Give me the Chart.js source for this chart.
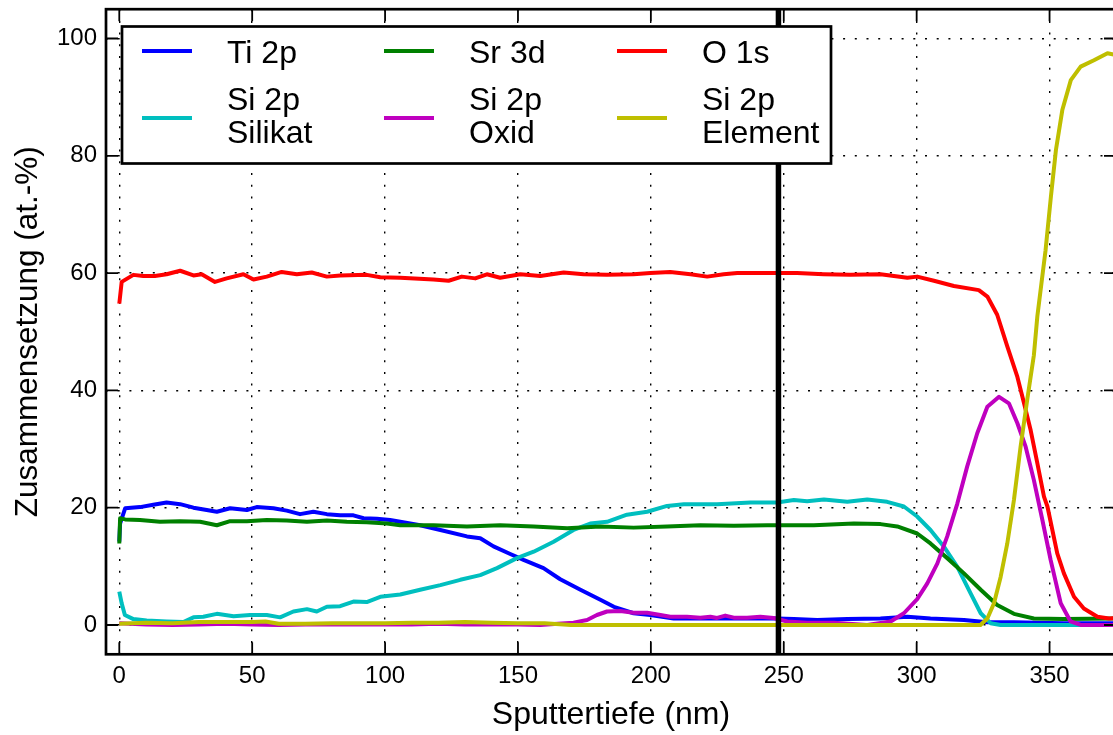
<!DOCTYPE html>
<html>
<head>
<meta charset="utf-8">
<script src="https://cdn.jsdelivr.net/npm/chart.js@4.4.1/dist/chart.umd.min.js"></script>
<style>
  html, body { margin: 0; padding: 0; background: #fff; overflow: hidden; }
  #wrap { width: 1113px; height: 735px; overflow: hidden; position: relative; }
  canvas { display: block; }
</style>
</head>
<body>
<div id="wrap"><canvas id="c" width="1118" height="735"></canvas></div>
<script>
// Axis ranges and ticks
const depthRange = [-5, 375];
const compRange = [-5, 105];
const depthTicks = [0, 50, 100, 150, 200, 250, 300, 350];
const compTicks = [0, 20, 40, 60, 80, 100];

// Interface marker (nm)
const interfaceDepth = 248;

// Ti 2p
const tiDepth = [0, 0.3, 2.2, 7.8, 12.8, 17.8, 22.9, 27.9, 32.9, 36.7, 41.7, 48, 51.7, 58, 63, 68, 73, 78.1, 83.1, 88.1,
  91.9, 96.9, 101.9, 105.7, 113.2, 120.8, 130.8, 135.8, 140.8, 147.1, 152.1, 159.6, 165.9, 173.5, 181, 186.1, 193.5, 199.8,
  208.6, 218.6, 231.2, 247.5, 253.8, 262.6, 273.9, 286.4, 296.5, 305.2, 317.8, 326.6, 336.6, 355.4, 375];
const tiValue = [14.2, 17.3, 19.9, 20.1, 20.5, 20.9, 20.6, 20.0, 19.6, 19.3, 19.9, 19.6, 20.1, 19.9, 19.5, 18.9, 19.3, 18.9, 18.7, 18.7,
  18.2, 18.1, 17.9, 17.6, 17.0, 16.2, 15.1, 14.8, 13.4, 12.1, 11.1, 9.7, 7.8, 6.0, 4.3, 3.1, 2.0, 1.7,
  1.1, 1.1, 1.1, 1.1, 1.0, 0.85, 1.0, 1.1, 1.4, 1.1, 0.85, 0.45, 0.45, 0.3, 0.3];

// Si 2p (Silikat)
const silikatDepth = [0, 0.9, 2.1, 5.3, 10.3, 17.8, 24.1, 27.9, 31.6, 36.7, 43, 49.2, 55.5, 60.5, 65.5, 70.6, 74.3, 78.1, 83.1, 88.1,
  93.1, 98.2, 105.7, 113.2, 120.8, 128.3, 135.8, 142.1, 149.6, 155.9, 163.4, 170.9, 177.2, 183.5, 191, 198.6, 206.1, 212.4, 224.9, 237.5,
  247.5, 253.8, 258.8, 265.1, 273.9, 281.4, 288.9, 295.2, 300.2, 305.2, 310.2, 315.3, 320.3, 324.1, 327.8, 331.6, 375];
const silikatValue = [5.7, 3.7, 1.7, 1.0, 0.75, 0.6, 0.5, 1.3, 1.4, 1.9, 1.5, 1.7, 1.7, 1.3, 2.3, 2.7, 2.3, 3.1, 3.2, 4.0,
  3.9, 4.8, 5.2, 6.0, 6.8, 7.7, 8.5, 9.7, 11.4, 12.5, 14.2, 16.2, 17.3, 17.6, 18.8, 19.3, 20.3, 20.6, 20.6, 20.9,
  20.9, 21.3, 21.1, 21.4, 21.0, 21.4, 21.0, 20.2, 18.5, 16.2, 13.4, 9.9, 5.4, 2.0, 0.3, 0.0, 0.0];

// Sr 3d
const srDepth = [0, 0.3, 2.2, 7.8, 15.3, 22.9, 30.4, 36.7, 41.7, 48, 55.5, 63, 70.6, 78.1, 85.6, 93.1, 100.7, 105.7, 118.2, 130.8,
  143.3, 155.9, 168.5, 181, 193.5, 206.1, 218.6, 231.2, 243.8, 261.3, 276.4, 286.4, 292.7, 300.2, 305.2, 311.5, 317.8, 324.1,
  330.3, 336.6, 344.1, 355.4, 375];
const srValue = [13.9, 18.2, 18.0, 17.9, 17.6, 17.7, 17.6, 17.0, 17.7, 17.7, 17.9, 17.8, 17.6, 17.8, 17.6, 17.5, 17.3, 17.0, 17.0, 16.8,
  17.0, 16.8, 16.5, 16.8, 16.6, 16.8, 17.0, 16.9, 17.0, 17.0, 17.3, 17.2, 16.8, 15.6, 13.9, 11.4, 8.8, 6.0,
  3.4, 1.9, 1.1, 1.0, 1.1];

// Si 2p (Oxid)
const oxidDepth = [0, 10, 20, 30, 40, 50, 60, 70, 80, 90, 100, 110, 120, 130, 140, 150,
  158.4, 165, 170.9, 176, 179.7, 183.5, 188.5, 193.5, 198.6, 203.6, 207.3, 213.6, 218.6, 222.4, 224.9, 228, 231.2, 236.2, 241.2, 246.2,
  251.3, 258.8, 268.8, 281.4, 290.2, 295.2, 300.2, 304, 307.8, 311.5, 315.3, 319, 322.8, 326.6, 331, 334.7, 337.9, 341, 344.1, 347.3,
  350.4, 354.2, 357.9, 361.7, 375];
const oxidValue = [0.3, 0.1, 0.0, 0.1, 0.2, 0.1, 0.0, 0.1, 0.1, 0.1, 0.1, 0.1, 0.2, 0.1, 0.1, 0.1,
  0.0, 0.2, 0.4, 0.85, 1.7, 2.3, 2.4, 2.1, 2.1, 1.7, 1.4, 1.4, 1.25, 1.4, 1.2, 1.6, 1.25, 1.25, 1.4, 1.2,
  0.6, 0.4, 0.4, 0.0, 0.6, 2.0, 4.4, 7.1, 10.5, 15.1, 20.7, 27.0, 32.7, 37.2, 38.9, 37.8, 34.4, 30.4, 24.7, 17.9,
  11.1, 3.7, 0.6, 0.0, 0.0];

// O 1s
const oDepth = [0, 0.9, 5.3, 9, 13.4, 17.8, 22.9, 27.9, 31, 36, 40.4, 46.7, 50.5, 55.5, 61.1, 66.8, 72.4, 78.1, 83.1, 93.1,
  98.2, 105.7, 118.2, 123.9, 128.9, 133.9, 138.3, 143.3, 150.9, 158.4, 167.2, 174.7, 183.5, 193.5, 199.8, 207.3, 214.9, 221.2, 227.4, 232.5,
  243.8, 255, 265, 275, 286.4, 296.5, 300.2, 306.5, 314, 323.4, 326.6, 330.3, 334.1, 337.9, 340.4, 342.9, 345.4, 347.9, 349.2, 352.9,
  355.4, 359.2, 362.9, 368, 372.4, 375];
const oValue = [54.8, 58.5, 59.7, 59.5, 59.5, 59.8, 60.4, 59.6, 59.8, 58.5, 59.1, 59.8, 58.9, 59.4, 60.2, 59.8, 60.1, 59.4, 59.6, 59.7,
  59.3, 59.2, 58.9, 58.7, 59.4, 59.1, 59.8, 59.2, 59.8, 59.5, 60.1, 59.8, 59.7, 59.8, 60.0, 60.2, 59.8, 59.4, 59.8, 60.0,
  60.0, 60.0, 59.8, 59.7, 59.8, 59.2, 59.4, 58.7, 57.8, 57.1, 56.0, 52.9, 47.5, 42.3, 37.8, 33.2, 27.6, 21.9, 20.2, 12.2,
  8.8, 4.8, 2.8, 1.4, 1.1, 1.2];

// Si 2p (Element)
const elementDepth = [0, 10, 20, 30, 40, 50, 55, 60, 70, 80, 90, 100, 110, 120, 130, 140, 150, 160, 170, 180,
  200, 250, 300, 324, 326.6, 329.1, 331.6, 334.1, 336.6, 339.1, 341.6, 344.1, 345.4, 348.5, 350.5, 352.4, 354.8, 358, 361.7, 366.7,
  371.8, 375];
const elementValue = [0.2, 0.4, 0.3, 0.5, 0.5, 0.5, 0.6, 0.2, 0.2, 0.3, 0.3, 0.3, 0.4, 0.4, 0.5, 0.4, 0.3, 0.3, 0.0, 0.0,
  0.0, 0.0, 0.0, 0.0, 1.1, 3.7, 8.2, 13.9, 21.3, 30.4, 38.4, 46.0, 52.6, 63.9, 73.0, 81.0, 87.8, 92.9, 95.2, 96.3,
  97.5, 97.2];

const FONT = "'Liberation Sans', Arial, Helvetica, sans-serif";
const pts = (xs, ys) => xs.map((x, i) => ({ x: x, y: ys[i] }));

function series(label, xs, ys, color, order) {
  return {
    label: label, data: pts(xs, ys), borderColor: color, backgroundColor: color,
    borderWidth: 4, pointRadius: 0, tension: 0, fill: false, order: order,
    borderJoinStyle: 'round', borderCapStyle: 'butt'
  };
}

const datasets = [
  series(['Ti 2p'], tiDepth, tiValue, '#0000ff', 6),
  series(['Si 2p', 'Silikat'], silikatDepth, silikatValue, '#00bfbf', 5),
  series(['Sr 3d'], srDepth, srValue, '#008000', 4),
  series(['Si 2p', 'Oxid'], oxidDepth, oxidValue, '#bf00bf', 3),
  series(['O 1s'], oDepth, oValue, '#ff0000', 2),
  series(['Si 2p', 'Element'], elementDepth, elementValue, '#bfbf00', 1),
  {
    label: 'interface', legendHidden: true,
    data: [{ x: interfaceDepth, y: compRange[0] }, { x: interfaceDepth, y: compRange[1] }],
    borderColor: '#000', borderWidth: 5.5, pointRadius: 0, order: 0, borderCapStyle: 'butt'
  }
];

// Axes frame with inward tick marks on all four sides
const framePlugin = {
  id: 'frame',
  afterDatasetsDraw(chart) {
    const { ctx, chartArea: a, scales: { x, y } } = chart;
    const tl = 12;
    ctx.save();
    ctx.strokeStyle = '#000';
    ctx.lineWidth = 1.8;
    ctx.beginPath();
    depthTicks.forEach(v => {
      const px = x.getPixelForValue(v);
      ctx.moveTo(px, a.bottom); ctx.lineTo(px, a.bottom - tl);
      ctx.moveTo(px, a.top); ctx.lineTo(px, a.top + tl);
    });
    compTicks.forEach(v => {
      const py = y.getPixelForValue(v);
      ctx.moveTo(a.left, py); ctx.lineTo(a.left + tl, py);
      ctx.moveTo(a.right, py); ctx.lineTo(a.right - tl, py);
    });
    ctx.stroke();
    ctx.lineWidth = 2.7;
    ctx.strokeRect(a.left, a.top, a.right - a.left, a.bottom - a.top);
    ctx.restore();
  }
};

// Boxed legend, three columns filled column by column
const legendPlugin = {
  id: 'boxLegend',
  afterDraw(chart) {
    const { ctx, chartArea: a } = chart;
    const left = a.left + 16, top = a.top + 17.3, w = 709, h = 137;
    ctx.save();
    ctx.fillStyle = '#fff';
    ctx.fillRect(left, top, w, h);
    ctx.strokeStyle = '#000';
    ctx.lineWidth = 2.7;
    ctx.strokeRect(left, top, w, h);
    const colX = [20, 262, 495];
    const rowLineY = [24.5, 91.5];
    const rowBase = [[36], [83, 116.5]];
    ctx.font = '32px ' + FONT;
    ctx.textAlign = 'left';
    ctx.textBaseline = 'alphabetic';
    const entries = chart.data.datasets.filter(d => !d.legendHidden);
    entries.forEach((d, i) => {
      const col = Math.floor(i / 2), row = i % 2;
      const lx = left + colX[col];
      const ly = top + rowLineY[row];
      ctx.strokeStyle = d.borderColor;
      ctx.lineWidth = 3.8;
      ctx.beginPath();
      ctx.moveTo(lx, ly); ctx.lineTo(lx + 50, ly);
      ctx.stroke();
      ctx.fillStyle = '#000';
      const lines = d.label;
      const bases = lines.length === 1 ? [rowBase[0][0] + (row === 0 ? 0 : 67)] : rowBase[1];
      lines.forEach((t, k) => ctx.fillText(t, lx + 85, top + bases[k]));
    });
    ctx.restore();
  }
};

Chart.defaults.color = '#000';
Chart.defaults.font.family = FONT;

new Chart(document.getElementById('c'), {
  type: 'line',
  data: { datasets: datasets },
  options: {
    responsive: false,
    animation: false,
    devicePixelRatio: 1,
    layout: { padding: { top: 9.2, right: 2, bottom: 0, left: 0 } },
    plugins: { legend: { display: false }, tooltip: { enabled: false } },
    scales: {
      x: {
        type: 'linear',
        min: depthRange[0], max: depthRange[1],
        afterBuildTicks: s => { s.ticks = depthTicks.map(v => ({ value: v })); },
        afterFit: s => { s.height = 80.7; s.paddingLeft = 0; s.paddingRight = 0; },
        ticks: { autoSkip: false, maxRotation: 0, padding: 8, font: { size: 24, family: FONT }, color: '#000' },
        grid: { color: '#000', lineWidth: 1.4, drawTicks: false },
        border: { display: false, dash: [2, 9.7] },
        title: { display: true, text: 'Sputtertiefe (nm)', font: { size: 32, family: FONT }, color: '#000', padding: { top: 0, bottom: 1 } }
      },
      y: {
        type: 'linear',
        min: compRange[0], max: compRange[1],
        afterBuildTicks: s => { s.ticks = compTicks.map(v => ({ value: v })); },
        afterFit: s => { s.width = 106; s.paddingTop = 0; s.paddingBottom = 0; },
        ticks: { padding: 9, font: { size: 24, family: FONT }, color: '#000' },
        grid: { color: '#000', lineWidth: 1.4, drawTicks: false },
        border: { display: false, dash: [2, 9.7] },
        title: { display: true, text: 'Zusammensetzung (at.-%)', font: { size: 31.5, family: FONT }, color: '#000', padding: { top: 9, bottom: 0 } }
      }
    }
  },
  plugins: [framePlugin, legendPlugin]
});
</script>
</body>
</html>
